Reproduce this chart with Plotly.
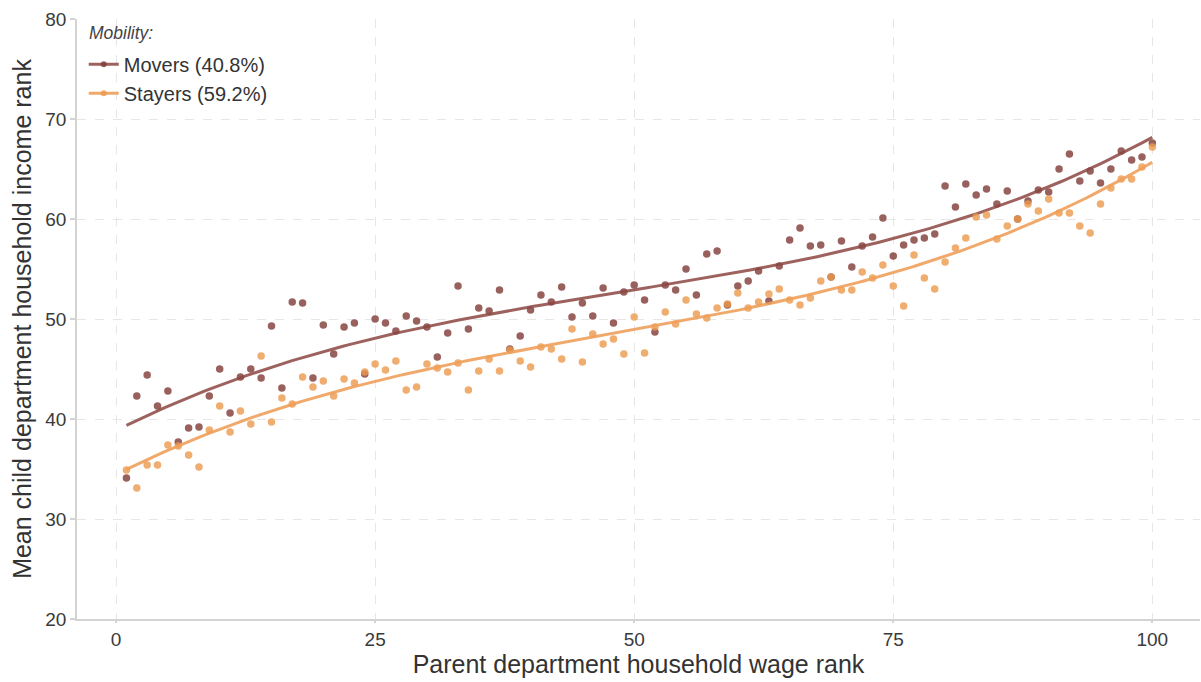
import numpy as np
import plotly.graph_objects as go

ranks = list(range(1, 101))

movers = [34.1, 42.3, 44.4, 41.3, 42.8, 37.7, 39.1, 39.2, 42.3, 45.0,
          40.6, 44.2, 45.0, 44.1, 49.3, 43.1, 51.7, 51.6, 44.1, 49.4,
          46.5, 49.2, 49.6, 44.5, 50.0, 49.6, 48.8, 50.3, 49.8, 49.2,
          46.2, 48.6, 53.3, 49.0, 51.1, 50.8, 52.9, 47.0, 48.3, 50.9,
          52.4, 51.7, 53.2, 50.2, 51.6, 50.3, 53.1, 49.6, 52.7, 53.4,
          51.9, 48.7, 53.4, 52.9, 55.0, 52.4, 56.5, 56.8, 51.4, 53.3,
          53.8, 54.8, 51.8, 55.3, 57.9, 59.1, 57.3, 57.4, 54.2, 57.8,
          55.2, 57.3, 58.2, 60.1, 56.3, 57.4, 57.9, 58.1, 58.5, 63.3,
          61.2, 63.5, 62.4, 63.0, 61.5, 62.8, 60.0, 61.8, 62.9, 62.7,
          65.0, 66.5, 63.8, 64.8, 63.6, 65.0, 66.8, 65.9, 66.2, 67.6]

stayers = [34.9, 33.1, 35.4, 35.4, 37.4, 37.3, 36.4, 35.2, 38.9, 41.3,
           38.7, 40.8, 39.5, 46.3, 39.7, 42.1, 41.5, 44.2, 43.2, 43.8,
           42.3, 44.0, 43.6, 44.7, 45.5, 44.9, 45.8, 42.9, 43.2, 45.5,
           45.1, 44.7, 45.6, 42.9, 44.8, 46.0, 44.8, 46.9, 45.8, 45.2,
           47.2, 47.0, 46.0, 49.0, 45.7, 48.5, 47.5, 48.0, 46.5, 50.2,
           46.6, 49.2, 50.7, 49.5, 51.9, 50.5, 50.1, 51.1, 51.5, 52.6,
           51.1, 51.7, 52.5, 53.0, 51.9, 51.4, 52.1, 53.8, 54.2, 52.9,
           52.9, 54.7, 54.1, 55.4, 53.3, 51.3, 56.4, 54.1, 53.0, 55.7,
           57.1, 58.1, 60.2, 60.4, 58.0, 59.3, 60.0, 61.5, 60.8, 62.0,
           60.6, 60.6, 59.3, 58.6, 61.5, 63.1, 64.0, 64.0, 65.2, 67.2]

series_names = ["Movers (40.8%)", "Stayers (59.2%)"]
legend_title = "Mobility:"
point_colors = ["rgba(128,58,54,0.8)", "rgba(236,152,76,0.8)"]
line_colors = ["rgba(140,70,66,0.85)", "rgba(238,160,90,0.9)"]

xs = np.array(ranks, dtype=float)
xfit = np.linspace(1, 100, 200)

fig = go.Figure()
for name, ys, pc, lc in zip(series_names, [movers, stayers], point_colors, line_colors):
    coef = np.polyfit(xs, np.array(ys), 3)
    fig.add_trace(go.Scatter(x=ranks, y=ys, mode="markers",
                             marker=dict(color=pc, size=7.5), showlegend=False,
                             hoverinfo="x+y"))
    fig.add_trace(go.Scatter(x=xfit, y=np.polyval(coef, xfit), mode="lines",
                             line=dict(color=lc, width=3), showlegend=False))
for i, (name, pc, lc) in enumerate(zip(series_names, point_colors, line_colors)):
    fig.add_trace(go.Scatter(x=[None], y=[None], mode="lines+markers", name=name,
                             legendgroup=f"g{i}",
                             line=dict(color=lc, width=3),
                             marker=dict(color=pc, size=6)))

common = dict(showgrid=True, gridcolor="#e6e6e6", griddash="dash", gridwidth=1,
              zeroline=False, showline=True, linecolor="#d3d3d3", linewidth=1.5,
              ticks="outside", tickcolor="#d3d3d3", tickwidth=1.5,
              tickfont=dict(size=19, color="#3a3a3a"),
              title_font=dict(size=25, color="#333333"), automargin=False)

fig.update_layout(
    width=1201, height=682,
    paper_bgcolor="white", plot_bgcolor="white",
    font=dict(family="Liberation Sans, Arial, sans-serif", color="#444444"),
    margin=dict(l=77, r=1, t=19, b=63),
    xaxis=dict(range=[-3.77, 104.6], tickvals=[0, 25, 50, 75, 100], ticklen=2,
               title=dict(text="Parent department household wage rank", standoff=3), **common),
    yaxis=dict(range=[20, 80], tickvals=[20, 30, 40, 50, 60, 70, 80], ticklen=5,
               title=dict(text="Mean child department household income rank", standoff=7), **common),
    legend=dict(x=0.006, y=0.957, xanchor="left", yanchor="top",
                bgcolor="rgba(255,255,255,0)", font=dict(size=20, color="#333333"),
                itemwidth=30, traceorder="grouped", tracegroupgap=0),
    annotations=[dict(text=f"<i>{legend_title}</i>", xref="paper", yref="paper",
                      x=0.009, y=0.997, xanchor="left", yanchor="top", showarrow=False,
                      font=dict(size=17.5, color="#444444"))],
    showlegend=True,
)

fig.write_html("out.html", config={"displayModeBar": False},
               post_script="document.body.style.margin='0';")
